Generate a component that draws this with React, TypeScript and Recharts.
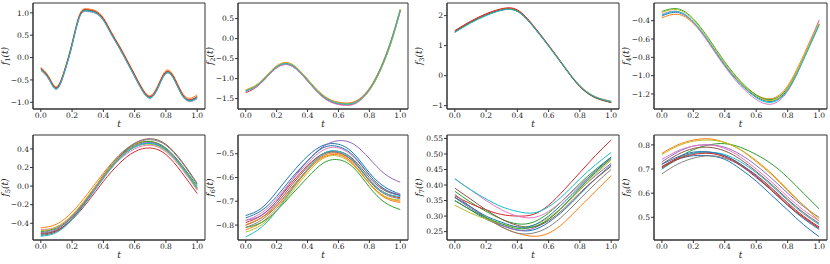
import React from "react";
import { LineChart, Line, XAxis, YAxis, Label, ReferenceArea } from "recharts";

const COLORS = ["#1f77b4", "#ff7f0e", "#2ca02c", "#d62728", "#9467bd", "#8c564b", "#e377c2", "#7f7f7f", "#bcbd22", "#17becf"];

const tFine = [0, 0.05, 0.1, 0.15, 0.2, 0.25, 0.3, 0.35, 0.4, 0.45, 0.5, 0.55, 0.6, 0.65, 0.7, 0.75, 0.8, 0.85, 0.9, 0.95, 1.0];
const tCoarse = [0, 0.1, 0.2, 0.3, 0.4, 0.5, 0.6, 0.7, 0.8, 0.9, 1.0];
const xTicks = [0, 0.2, 0.4, 0.6, 0.8, 1.0];

// f1: tight bundle
const f1Curves = [
  [-0.25, -0.45, -0.68, -0.32, 0.30, 0.95, 1.06, 1.02, 0.86, 0.55, 0.25, -0.07, -0.40, -0.72, -0.88, -0.65, -0.33, -0.45, -0.80, -0.95, -0.88],
  [-0.22, -0.42, -0.65, -0.29, 0.33, 0.98, 1.09, 1.05, 0.89, 0.58, 0.28, -0.04, -0.37, -0.69, -0.85, -0.61, -0.29, -0.41, -0.76, -0.91, -0.83],
  [-0.26, -0.46, -0.69, -0.33, 0.29, 0.94, 1.05, 1.01, 0.85, 0.54, 0.24, -0.08, -0.41, -0.73, -0.89, -0.66, -0.34, -0.46, -0.81, -0.96, -0.89],
  [-0.24, -0.44, -0.67, -0.31, 0.31, 0.96, 1.07, 1.03, 0.87, 0.56, 0.26, -0.06, -0.39, -0.71, -0.87, -0.64, -0.32, -0.44, -0.79, -0.94, -0.87],
  [-0.29, -0.48, -0.71, -0.35, 0.27, 0.92, 1.03, 0.99, 0.83, 0.52, 0.22, -0.10, -0.43, -0.75, -0.91, -0.68, -0.36, -0.48, -0.83, -0.98, -0.92],
  [-0.27, -0.47, -0.70, -0.34, 0.28, 0.93, 1.04, 1.00, 0.84, 0.53, 0.23, -0.09, -0.42, -0.74, -0.90, -0.67, -0.35, -0.47, -0.82, -0.97, -0.90],
];
const f1Colors = [0, 1, 2, 3, 4, 9];

const f2Curves = [
  [-1.30, -1.22, -1.08, -0.88, -0.70, -0.62, -0.66, -0.82, -1.03, -1.25, -1.43, -1.55, -1.61, -1.63, -1.60, -1.48, -1.26, -0.93, -0.49, 0.06, 0.72],
  [-1.28, -1.20, -1.06, -0.86, -0.68, -0.60, -0.64, -0.80, -1.01, -1.23, -1.41, -1.53, -1.59, -1.61, -1.58, -1.46, -1.24, -0.91, -0.47, 0.08, 0.74],
  [-1.35, -1.26, -1.11, -0.91, -0.73, -0.65, -0.69, -0.85, -1.06, -1.28, -1.46, -1.58, -1.64, -1.66, -1.63, -1.51, -1.29, -0.96, -0.52, 0.03, 0.69],
  [-1.33, -1.25, -1.11, -0.91, -0.73, -0.65, -0.69, -0.85, -1.06, -1.28, -1.47, -1.59, -1.65, -1.67, -1.64, -1.52, -1.30, -0.97, -0.53, 0.02, 0.68],
  [-1.29, -1.21, -1.07, -0.87, -0.69, -0.61, -0.65, -0.81, -1.02, -1.24, -1.42, -1.55, -1.61, -1.63, -1.61, -1.50, -1.29, -0.97, -0.54, 0.00, 0.70],
  [-1.31, -1.23, -1.09, -0.89, -0.71, -0.63, -0.67, -0.83, -1.04, -1.26, -1.44, -1.56, -1.62, -1.64, -1.61, -1.49, -1.27, -0.94, -0.50, 0.05, 0.71],
];
const f2Colors = [0, 1, 3, 6, 8, 9];

const f3Curves = [
  [1.47, 1.78, 2.03, 2.20, 2.16, 1.66, 1.00, 0.30, -0.35, -0.72, -0.87],
  [1.49, 1.80, 2.05, 2.22, 2.18, 1.68, 1.02, 0.32, -0.33, -0.70, -0.85],
  [1.45, 1.76, 2.01, 2.18, 2.14, 1.64, 0.98, 0.28, -0.37, -0.74, -0.89],
  [1.50, 1.81, 2.06, 2.23, 2.19, 1.68, 1.01, 0.30, -0.36, -0.73, -0.89],
  [1.46, 1.77, 2.02, 2.19, 2.15, 1.65, 0.99, 0.29, -0.36, -0.73, -0.88],
  [1.44, 1.75, 2.00, 2.18, 2.14, 1.65, 0.99, 0.30, -0.34, -0.71, -0.86],
];
const f3Colors = [0, 1, 2, 3, 5, 9];

const f4Curves = [
  [-0.35, -0.31, -0.42, -0.64, -0.89, -1.09, -1.23, -1.28, -1.15, -0.82, -0.44],
  [-0.37, -0.33, -0.43, -0.64, -0.88, -1.08, -1.21, -1.25, -1.11, -0.78, -0.40],
  [-0.30, -0.27, -0.38, -0.60, -0.85, -1.06, -1.21, -1.26, -1.13, -0.81, -0.44],
  [-0.33, -0.30, -0.42, -0.65, -0.90, -1.11, -1.26, -1.31, -1.17, -0.82, -0.39],
  [-0.31, -0.28, -0.39, -0.61, -0.86, -1.07, -1.22, -1.27, -1.14, -0.81, -0.43],
  [-0.34, -0.30, -0.41, -0.63, -0.88, -1.09, -1.24, -1.29, -1.16, -0.83, -0.45],
];
const f4Colors = [0, 1, 2, 6, 8, 9];

const f5Curves = [
  [-0.52, -0.48, -0.35, -0.14, 0.09, 0.29, 0.42, 0.46, 0.39, 0.21, -0.03],
  [-0.45, -0.41, -0.28, -0.08, 0.14, 0.33, 0.45, 0.48, 0.40, 0.21, -0.04],
  [-0.49, -0.45, -0.32, -0.12, 0.11, 0.31, 0.44, 0.48, 0.41, 0.23, 0.00],
  [-0.51, -0.48, -0.36, -0.17, 0.05, 0.24, 0.37, 0.41, 0.34, 0.15, -0.08],
  [-0.50, -0.46, -0.33, -0.13, 0.10, 0.30, 0.43, 0.47, 0.40, 0.22, -0.02],
  [-0.53, -0.49, -0.35, -0.14, 0.10, 0.31, 0.46, 0.51, 0.45, 0.27, 0.03],
  [-0.47, -0.44, -0.32, -0.13, 0.09, 0.28, 0.40, 0.44, 0.37, 0.19, -0.04],
  [-0.51, -0.47, -0.33, -0.12, 0.12, 0.33, 0.46, 0.50, 0.44, 0.26, 0.02],
  [-0.48, -0.44, -0.31, -0.11, 0.11, 0.30, 0.42, 0.45, 0.38, 0.20, -0.03],
  [-0.54, -0.50, -0.36, -0.15, 0.08, 0.29, 0.42, 0.46, 0.39, 0.21, -0.02],
];
const f5Colors = [0, 1, 2, 3, 4, 5, 6, 7, 8, 9];

const f6Curves = [
  [-0.76, -0.73, -0.66, -0.58, -0.51, -0.465, -0.46, -0.50, -0.58, -0.64, -0.67],
  [-0.82, -0.79, -0.73, -0.65, -0.57, -0.51, -0.50, -0.545, -0.625, -0.68, -0.70],
  [-0.81, -0.79, -0.74, -0.67, -0.60, -0.54, -0.525, -0.56, -0.64, -0.705, -0.735],
  [-0.79, -0.76, -0.70, -0.62, -0.55, -0.50, -0.495, -0.535, -0.61, -0.665, -0.685],
  [-0.78, -0.76, -0.70, -0.61, -0.53, -0.47, -0.445, -0.46, -0.52, -0.585, -0.62],
  [-0.80, -0.77, -0.71, -0.63, -0.555, -0.50, -0.49, -0.525, -0.60, -0.655, -0.675],
  [-0.78, -0.75, -0.69, -0.61, -0.54, -0.485, -0.475, -0.515, -0.59, -0.65, -0.67],
  [-0.81, -0.78, -0.72, -0.64, -0.565, -0.505, -0.495, -0.535, -0.615, -0.67, -0.69],
  [-0.83, -0.80, -0.74, -0.66, -0.58, -0.52, -0.51, -0.55, -0.625, -0.68, -0.695],
  [-0.85, -0.81, -0.74, -0.65, -0.565, -0.50, -0.49, -0.53, -0.61, -0.665, -0.68],
  [-0.77, -0.74, -0.68, -0.60, -0.53, -0.475, -0.47, -0.51, -0.59, -0.65, -0.675],
  [-0.80, -0.77, -0.72, -0.645, -0.57, -0.515, -0.505, -0.545, -0.625, -0.685, -0.705],
];
const f6Colors = [0, 1, 2, 3, 4, 5, 6, 7, 8, 9, 0, 1];

const f7Curves = [
  [0.35, 0.32, 0.29, 0.27, 0.255, 0.255, 0.28, 0.32, 0.37, 0.42, 0.465],
  [0.36, 0.33, 0.295, 0.265, 0.245, 0.235, 0.245, 0.28, 0.33, 0.38, 0.43],
  [0.38, 0.345, 0.315, 0.29, 0.275, 0.28, 0.31, 0.355, 0.405, 0.45, 0.49],
  [0.365, 0.34, 0.32, 0.305, 0.30, 0.305, 0.335, 0.385, 0.44, 0.495, 0.545],
  [0.36, 0.325, 0.295, 0.27, 0.255, 0.26, 0.29, 0.335, 0.385, 0.43, 0.47],
  [0.39, 0.355, 0.32, 0.29, 0.27, 0.265, 0.285, 0.325, 0.375, 0.42, 0.46],
  [0.42, 0.385, 0.35, 0.32, 0.30, 0.295, 0.315, 0.355, 0.40, 0.445, 0.485],
  [0.37, 0.33, 0.295, 0.265, 0.245, 0.245, 0.265, 0.305, 0.355, 0.405, 0.45],
  [0.335, 0.31, 0.29, 0.275, 0.265, 0.27, 0.295, 0.335, 0.385, 0.435, 0.48],
  [0.42, 0.385, 0.355, 0.33, 0.315, 0.31, 0.33, 0.37, 0.42, 0.465, 0.505],
  [0.36, 0.33, 0.30, 0.28, 0.265, 0.27, 0.30, 0.345, 0.395, 0.445, 0.49],
  [0.35, 0.32, 0.295, 0.275, 0.26, 0.265, 0.29, 0.335, 0.39, 0.44, 0.485],
];
const f7Colors = [0, 1, 2, 3, 4, 5, 6, 7, 8, 9, 0, 2];

const f8Curves = [
  [0.71, 0.74, 0.755, 0.755, 0.74, 0.70, 0.65, 0.59, 0.53, 0.47, 0.42],
  [0.765, 0.80, 0.82, 0.825, 0.81, 0.78, 0.735, 0.68, 0.615, 0.55, 0.485],
  [0.70, 0.745, 0.78, 0.80, 0.805, 0.79, 0.76, 0.72, 0.665, 0.60, 0.535],
  [0.71, 0.745, 0.765, 0.77, 0.755, 0.72, 0.675, 0.62, 0.56, 0.505, 0.46],
  [0.73, 0.77, 0.795, 0.80, 0.79, 0.76, 0.715, 0.66, 0.60, 0.545, 0.50],
  [0.72, 0.76, 0.785, 0.79, 0.775, 0.74, 0.69, 0.635, 0.575, 0.52, 0.475],
  [0.74, 0.775, 0.795, 0.80, 0.785, 0.75, 0.70, 0.645, 0.585, 0.53, 0.485],
  [0.68, 0.72, 0.745, 0.755, 0.745, 0.715, 0.67, 0.615, 0.555, 0.50, 0.455],
  [0.76, 0.795, 0.815, 0.82, 0.81, 0.78, 0.73, 0.675, 0.61, 0.55, 0.495],
  [0.70, 0.74, 0.765, 0.77, 0.76, 0.73, 0.685, 0.63, 0.57, 0.515, 0.47],
  [0.72, 0.75, 0.77, 0.77, 0.755, 0.72, 0.67, 0.61, 0.55, 0.495, 0.45],
  [0.705, 0.74, 0.76, 0.765, 0.75, 0.715, 0.665, 0.61, 0.55, 0.50, 0.455],
];
const f8Colors = [0, 1, 2, 3, 4, 5, 6, 7, 8, 9, 0, 3];

type Panel = {
  idx: number;
  ts: number[];
  curves: number[][];
  colors: number[];
  domain: [number, number];
  yTicks: number[];
  digits: number;
  box: [number, number, number, number]; // left, top, right, bottom of plot area
};

const panels: Panel[] = [
  { idx: 1, ts: tFine, curves: f1Curves, colors: f1Colors, domain: [-1.15, 1.22], yTicks: [-1, -0.5, 0, 0.5, 1], digits: 1, box: [33, 3, 205, 109] },
  { idx: 2, ts: tFine, curves: f2Curves, colors: f2Colors, domain: [-1.76, 0.89], yTicks: [-1.5, -1, -0.5, 0, 0.5], digits: 1, box: [238, 3, 408, 109] },
  { idx: 3, ts: tCoarse, curves: f3Curves, colors: f3Colors, domain: [-1.11, 2.42], yTicks: [-1, 0, 1, 2], digits: 0, box: [447, 3, 619, 109] },
  { idx: 4, ts: tCoarse, curves: f4Curves, colors: f4Colors, domain: [-1.364, -0.207], yTicks: [-1.2, -1.0, -0.8, -0.6, -0.4], digits: 1, box: [654, 3, 827, 109] },
  { idx: 5, ts: tCoarse, curves: f5Curves, colors: f5Colors, domain: [-0.58, 0.55], yTicks: [-0.4, -0.2, 0, 0.2, 0.4], digits: 1, box: [33, 135, 205, 240] },
  { idx: 6, ts: tCoarse, curves: f6Curves, colors: f6Colors, domain: [-0.863, -0.421], yTicks: [-0.8, -0.7, -0.6, -0.5], digits: 1, box: [238, 135, 408, 240] },
  { idx: 7, ts: tCoarse, curves: f7Curves, colors: f7Colors, domain: [0.223, 0.561], yTicks: [0.25, 0.3, 0.35, 0.4, 0.45, 0.5, 0.55], digits: 2, box: [447, 135, 619, 240] },
  { idx: 8, ts: tCoarse, curves: f8Curves, colors: f8Colors, domain: [0.406, 0.841], yTicks: [0.5, 0.6, 0.7, 0.8], digits: 1, box: [654, 135, 827, 240] },
];

const FONT = "'DejaVu Serif', serif";
const AXIS = "#333";
const LEFT = 40;
const TOP = 3;
const RIGHT = 3;
const BOTTOM = 24;

const fmt = (d: number) => (v: number) => v.toFixed(d).replace("-", "\u2212");

const buildRows = (ts: number[], curves: number[][]) =>
  ts.map((t, i) => {
    const row: Record<string, number> = { t };
    curves.forEach((c, j) => {
      row["c" + j] = c[i];
    });
    return row;
  });

function YLabel(props: any) {
  const { viewBox, idx } = props;
  const cx = viewBox.x + viewBox.width - 25;
  const cy = viewBox.y + viewBox.height / 2;
  return (
    <text transform={`translate(${cx},${cy}) rotate(-90)`} textAnchor="middle" fontFamily={FONT} fontSize={9} fill="#222" fontStyle="italic">
      f<tspan fontSize={6.5} dy={2} fontStyle="normal">{idx}</tspan>
      <tspan dy={-2}>(t)</tspan>
    </text>
  );
}

function XLabel(props: any) {
  const { viewBox } = props;
  const cx = viewBox.x + viewBox.width / 2;
  const cy = viewBox.y + 18;
  return (
    <text x={cx} y={cy} textAnchor="middle" fontFamily={FONT} fontSize={9} fill="#222" fontStyle="italic">
      t
    </text>
  );
}

function PanelChart({ p }: { p: Panel }) {
  const [x0, y0, x1, y1] = p.box;
  const w = x1 - x0 + LEFT + RIGHT;
  const h = y1 - y0 + TOP + BOTTOM;
  const rows = buildRows(p.ts, p.curves);
  const tickStyle = { fontFamily: FONT, fontSize: 7.5, fill: "#222" };
  return (
    <div style={{ position: "absolute", left: x0 - LEFT, top: y0 - TOP }}>
      <LineChart width={w} height={h} data={rows} margin={{ top: TOP, right: RIGHT, bottom: 0, left: 0 }}>
        <XAxis
          type="number"
          dataKey="t"
          domain={[-0.05, 1.05]}
          ticks={xTicks}
          tickFormatter={fmt(1)}
          allowDataOverflow
          height={BOTTOM}
          stroke={AXIS}
          tickSize={3}
          tickMargin={1}
          tick={tickStyle}
        >
          <Label content={(lp: any) => <XLabel {...lp} />} />
        </XAxis>
        <YAxis
          type="number"
          domain={p.domain}
          ticks={p.yTicks}
          tickFormatter={fmt(p.digits)}
          allowDataOverflow
          width={LEFT}
          stroke={AXIS}
          tickSize={3}
          tickMargin={1}
          tick={tickStyle}
        >
          <Label content={(lp: any) => <YLabel {...lp} idx={p.idx} />} />
        </YAxis>
        {p.curves.map((_, j) => (
          <Line
            key={j}
            type="natural"
            dataKey={"c" + j}
            stroke={COLORS[p.colors[j]]}
            strokeWidth={1}
            dot={false}
            isAnimationActive={false}
          />
        ))}
        <ReferenceArea x1={-0.05} x2={1.05} y1={p.domain[0]} y2={p.domain[1]} fill="none" stroke={AXIS} strokeWidth={1} ifOverflow="visible" />
      </LineChart>
    </div>
  );
}

export default function App() {
  return (
    <div style={{ position: "fixed", left: 0, top: 0, width: 830, height: 264, background: "#fff" }}>
      {panels.map((p) => (
        <PanelChart key={p.idx} p={p} />
      ))}
    </div>
  );
}
